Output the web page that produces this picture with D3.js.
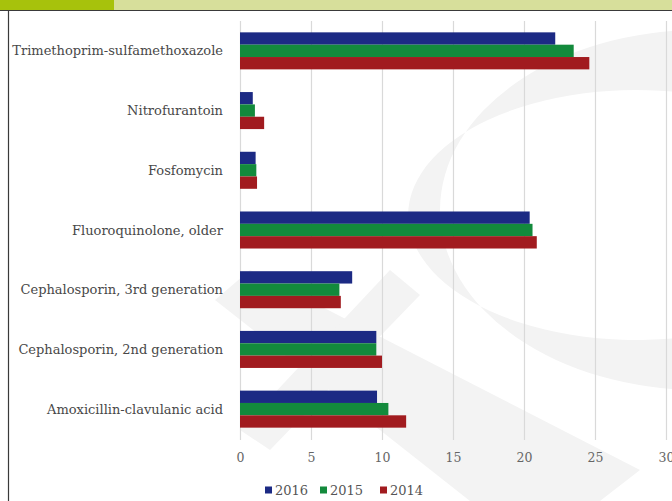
<!DOCTYPE html>
<html lang="en">
<head>
  <meta charset="UTF-8">
  <title>Antibiotic resistance by year</title>
  <script src="https://d3js.org/d3.v7.min.js"></script>
  <style>
    body { margin: 0; background: #fff; }
    svg { display: block; }
  </style>
</head>
<body>
  <div id="chart"></div>

  <script>
    // Chart data
    const categories = [
      "Trimethoprim-sulfamethoxazole",
      "Nitrofurantoin",
      "Fosfomycin",
      "Fluoroquinolone, older",
      "Cephalosporin, 3rd generation",
      "Cephalosporin, 2nd generation",
      "Amoxicillin-clavulanic acid"
    ];
    const years = ["2016", "2015", "2014"];
    const values2016 = [22.2, 0.9, 1.1, 20.4, 7.9, 9.6, 9.65];
    const values2015 = [23.5, 1.05, 1.15, 20.6, 7.0, 9.6, 10.45];
    const values2014 = [24.6, 1.7, 1.2, 20.9, 7.1, 10.0, 11.7];
    const xTicks = [0, 5, 10, 15, 20, 25, 30];

    const colors = { "2016": "#1c2a84", "2015": "#138a3c", "2014": "#a11b1f" };
    const seriesByYear = { "2016": values2016, "2015": values2015, "2014": values2014 };

    const width = 672, height = 501;

    const svg = d3.select("#chart").append("svg")
      .attr("width", width)
      .attr("height", height);

    // Header band
    svg.append("rect").attr("x", 0).attr("y", 0).attr("width", width).attr("height", 10).attr("fill", "#d7df9b");
    svg.append("rect").attr("x", 0).attr("y", 0).attr("width", 114).attr("height", 10).attr("fill", "#a7c20c");
    svg.append("line").attr("x1", 0).attr("x2", width).attr("y1", 10.5).attr("y2", 10.5)
      .attr("stroke", "#3a3a3a").attr("stroke-width", 1.2);
    svg.append("line").attr("x1", 8.5).attr("x2", 8.5).attr("y1", 10).attr("y2", height)
      .attr("stroke", "#3a3a3a").attr("stroke-width", 1.2);

    // Faint watermark behind the plot
    const wm = svg.append("g").attr("fill", "#f3f3f3");
    wm.append("path")
      .attr("fill-rule", "evenodd")
      .attr("d", "M 700 30 A 260 180 0 1 0 700 390 L 700 335 A 228 125 0 1 1 700 95 Z");
    wm.append("path").attr("d", "M 215 300 L 250 270 L 640 470 L 600 501 L 470 501 Z");
    wm.append("path").attr("d", "M 390 270 L 420 295 L 270 450 L 240 430 Z");

    // Scales
    const x = d3.scaleLinear().domain([0, 30]).range([240, 666]);
    const y = d3.scaleBand().domain(categories).range([21, 439]).paddingInner(0.38).paddingOuter(0.19);
    const ySub = d3.scaleBand().domain(years).range([0, y.bandwidth()]);

    // Gridlines
    svg.append("g").selectAll("line")
      .data(xTicks)
      .enter().append("line")
        .attr("x1", d => x(d) + 0.5)
        .attr("x2", d => x(d) + 0.5)
        .attr("y1", 21)
        .attr("y2", 440)
        .attr("stroke", "#d9d9d9")
        .attr("stroke-width", 1.2);

    // Bars
    const groups = svg.append("g").selectAll("g")
      .data(categories)
      .enter().append("g")
        .attr("transform", d => `translate(0,${y(d)})`);

    groups.selectAll("rect")
      .data((d, i) => years.map(yr => ({ year: yr, value: seriesByYear[yr][i] })))
      .enter().append("rect")
        .attr("x", x(0))
        .attr("y", d => ySub(d.year))
        .attr("width", d => x(d.value) - x(0))
        .attr("height", ySub.bandwidth())
        .attr("fill", d => colors[d.year]);

    // Category labels
    svg.append("g").selectAll("text")
      .data(categories)
      .enter().append("text")
        .attr("x", 223)
        .attr("y", d => y(d) + y.bandwidth() / 2)
        .attr("dy", "0.35em")
        .attr("text-anchor", "end")
        .attr("font-family", "DejaVu Serif, serif")
        .attr("font-size", 13)
        .attr("fill", "#484848")
        .text(d => d);

    // X axis labels
    const xAxis = d3.axisBottom(x).tickValues(xTicks).tickSize(0).tickPadding(0);
    const axisG = svg.append("g")
      .attr("transform", "translate(0,453)")
      .call(xAxis);
    axisG.select(".domain").remove();
    axisG.selectAll("text")
      .attr("font-family", "DejaVu Serif, serif")
      .attr("font-size", 12.5)
      .attr("fill", "#666");

    // Legend
    const legend = svg.append("g").attr("transform", "translate(265,490)");
    const legendX = { "2016": 0, "2015": 55, "2014": 115 };
    const item = legend.selectAll("g")
      .data(years)
      .enter().append("g")
        .attr("transform", d => `translate(${legendX[d]},0)`);
    item.append("rect")
      .attr("x", 0).attr("y", -3.5)
      .attr("width", 7).attr("height", 7)
      .attr("fill", d => colors[d]);
    item.append("text")
      .attr("x", 10)
      .attr("dy", "0.35em")
      .attr("font-family", "DejaVu Serif, serif")
      .attr("font-size", 13)
      .attr("fill", "#555")
      .text(d => d);
  </script>
</body>
</html>
